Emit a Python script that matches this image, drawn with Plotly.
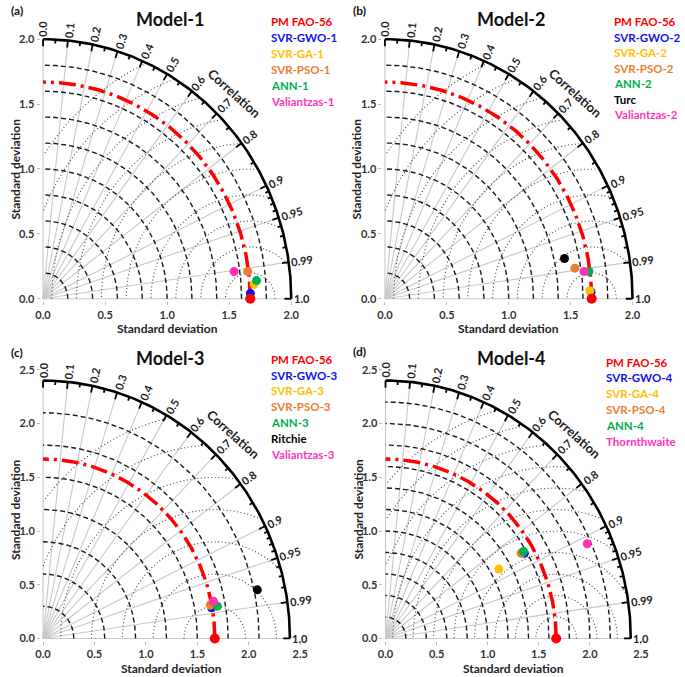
import numpy as np
import plotly.graph_objects as go

# -------------------------
# Data (std dev, correlation)
# -------------------------
ref_name = "PM FAO-56"
ref_std = 1.67

titles = ["Model-1", "Model-2", "Model-3", "Model-4"]
tags = ["(a)", "(b)", "(c)", "(d)"]

names_1 = ["SVR-GWO-1", "SVR-GA-1", "SVR-PSO-1", "ANN-1", "Valiantzas-1"]
std_1 = [1.671, 1.704, 1.663, 1.726, 1.554]
corr_1 = [0.9997, 0.9979, 0.9920, 0.9967, 0.9908]

names_2 = ["SVR-GWO-2", "SVR-GA-2", "SVR-PSO-2", "ANN-2", "Turc", "Valiantzas-2"]
std_2 = [1.666, 1.656, 1.552, 1.661, 1.483, 1.622]
corr_2 = [0.9995, 0.9993, 0.9884, 0.9920, 0.9779, 0.9916]

names_3 = ["SVR-GWO-3", "SVR-GA-3", "SVR-PSO-3", "ANN-3", "Ritchie", "Valiantzas-3"]
std_3 = [1.663, 1.654, 1.660, 1.721, 2.132, 1.693]
corr_3 = [0.9852, 0.9823, 0.9818, 0.9847, 0.9772, 0.9789]

names_4 = ["SVR-GWO-4", "SVR-GA-4", "SVR-PSO-4", "ANN-4", "Thornthwaite"]
std_4 = [1.573, 1.283, 1.546, 1.574, 2.162]
corr_4 = [0.8637, 0.8641, 0.8584, 0.8575, 0.9132]

corr_major = [0.0, 0.1, 0.2, 0.3, 0.4, 0.5, 0.6, 0.7, 0.8, 0.9, 0.95, 0.99, 1.0]
corr_minor = [0.05, 0.15, 0.25, 0.35, 0.45, 0.55, 0.65, 0.75, 0.85,
              0.91, 0.92, 0.93, 0.94, 0.96, 0.97, 0.98]

# colours
RED, BLUE, GOLD, ORANGE, GREEN, BLACK, PINK = ("#ff0000", "#1010f0", "#ffc000",
                                               "#ed7d31", "#00b050", "#000000", "#ff33bb")
colors_1 = [BLUE, GOLD, ORANGE, GREEN, PINK]
colors_2 = [BLUE, GOLD, ORANGE, GREEN, BLACK, PINK]
colors_3 = [BLUE, GOLD, ORANGE, GREEN, BLACK, PINK]
colors_4 = [BLUE, GOLD, ORANGE, GREEN, PINK]

# -------------------------
# Panel geometry (pixels in the 685x677 page)
# -------------------------
W, H = 685, 677
FONT = "Lato"
panels = [
    dict(names=names_1, std=std_1, corr=corr_1, colors=colors_1,
         ox=37.7, oy=297.7, sx=126.3, sy=131.5, R=2.0, top=2.0, hi=2.05,
         std_step=0.2, std_max=1.8, rms_step=0.2, rms_max=2.0,
         title=(167, 14), tag=(11, 6), leg=(268, 17, 16.1)),
    dict(names=names_2, std=std_2, corr=corr_2, colors=colors_2,
         ox=385.7, oy=297.7, sx=126.0, sy=131.5, R=2.0, top=2.0, hi=2.05,
         std_step=0.2, std_max=1.8, rms_step=0.2, rms_max=2.0,
         title=(515, 14), tag=(360, 6), leg=(617, 17, 15.7)),
    dict(names=names_3, std=std_3, corr=corr_3, colors=colors_3,
         ox=37.7, oy=642.0, sx=104.7, sy=108.9, R=2.4, top=2.5, hi=2.52,
         std_step=0.3, std_max=2.1, rms_step=0.3, rms_max=2.1,
         title=(167, 358), tag=(11, 352), leg=(268, 359, 16.1)),
    dict(names=names_4, std=std_4, corr=corr_4, colors=colors_4,
         ox=386.3, oy=642.0, sx=104.0, sy=108.9, R=2.4, top=2.5, hi=2.52,
         std_step=0.2, std_max=2.2, rms_step=0.2, rms_max=2.2,
         title=(515, 358), tag=(360, 351), leg=(609, 362, 16.0)),
]

fig = go.Figure()
annotations = []
LO = -0.02


def px(x, y):
    return x / W, 1 - y / H


def note(x, y, text, size, color="#222", anchor="center", angle=0):
    ax_, ay_ = px(x, y)
    annotations.append(dict(x=ax_, y=ay_, xref="paper", yref="paper", text=text,
                            xanchor=anchor, yanchor="middle", showarrow=False,
                            textangle=angle,
                            font=dict(family=FONT, size=size, color=color, weight="bold")))


def join(segments):
    xs, ys = [], []
    for sx_, sy_ in segments:
        xs += list(sx_) + [None]
        ys += list(sy_) + [None]
    return xs, ys


for k, p in enumerate(panels):
    xa = "x" if k == 0 else f"x{k + 1}"
    ya = "y" if k == 0 else f"y{k + 1}"
    R = p["R"]
    scale = (p["sx"] + p["sy"]) / 2

    def line(xs, ys, color, width, dash="solid"):
        fig.add_trace(go.Scatter(x=xs, y=ys, mode="lines", xaxis=xa, yaxis=ya,
                                 line=dict(color=color, width=width, dash=dash),
                                 hoverinfo="skip", showlegend=False))

    # grey radial lines
    segs = []
    for c in corr_major:
        t = np.arccos(c)
        segs.append(([0, R * np.cos(t)], [0, R * np.sin(t)]))
    xs, ys = join(segs)
    line(xs, ys, "#c8c8c8", 1.1)

    # dashed std-dev arcs
    th = np.linspace(0, np.pi / 2, 200)
    radii = np.arange(p["std_step"], p["std_max"] + 1e-6, p["std_step"])
    xs, ys = join([(r * np.cos(th), r * np.sin(th)) for r in radii])
    line(xs, ys, "#1a1a1a", 1.4, "5px,3px")

    # dotted centred-RMS arcs around the reference point
    phi = np.linspace(0, np.pi, 500)
    segs = []
    for r in np.arange(p["rms_step"], p["rms_max"] + 1e-6, p["rms_step"]):
        ax_ = ref_std + r * np.cos(phi)
        ay_ = r * np.sin(phi)
        keep = (ax_ >= 0) & (ax_ ** 2 + ay_ ** 2 <= R ** 2)
        segs.append(([v if m else None for v, m in zip(ax_, keep)],
                     [v if m else None for v, m in zip(ay_, keep)]))
    xs, ys = join(segs)
    line(xs, ys, "#444444", 1.1, "1px,2.5px")

    # reference std arc
    line(ref_std * np.cos(th), ref_std * np.sin(th), RED, 3.5, "17px,5px,3px,5px")

    # outer arc + correlation ticks
    line(R * np.cos(th), R * np.sin(th), "#000000", 2.6)
    segs = []
    for c, L in [(c, 7) for c in corr_major] + [(c, 4) for c in corr_minor]:
        t = np.arccos(c)
        r0 = R - L / scale
        segs.append(([r0 * np.cos(t), R * np.cos(t)], [r0 * np.sin(t), R * np.sin(t)]))
    xs, ys = join(segs)
    line(xs, ys, "#000000", 1.8)

    for c in corr_major:
        t = np.arccos(c)
        lab = f"{c:.2f}".rstrip("0") if c not in (0.0, 1.0) else f"{c:.1f}"
        w = 6.0 * sum(ch.isdigit() for ch in lab) + 3.0 * lab.count(".")
        d = 3 + w / 2
        annotations.append(dict(x=R * np.cos(t), y=R * np.sin(t), xref=xa, yref=ya,
                                text=lab, showarrow=False, textangle=-np.degrees(t),
                                xanchor="center", yanchor="middle",
                                xshift=d * np.cos(t), yshift=d * np.sin(t),
                                font=dict(family=FONT, size=11, color="#222", weight="bold")))
    t = np.radians(46)
    annotations.append(dict(x=R * np.cos(t), y=R * np.sin(t), xref=xa, yref=ya,
                            text="Correlation", showarrow=False, textangle=42,
                            xanchor="center", yanchor="middle",
                            xshift=27 * np.cos(t), yshift=27 * np.sin(t),
                            font=dict(family=FONT, size=13, color="#222", weight="bold")))

    # model points
    for n, s, c, col in zip(p["names"], p["std"], p["corr"], p["colors"]):
        t = np.arccos(c)
        fig.add_trace(go.Scatter(x=[s * np.cos(t)], y=[s * np.sin(t)], mode="markers",
                                 xaxis=xa, yaxis=ya, name=n, showlegend=False,
                                 cliponaxis=False, marker=dict(color=col, size=9)))
    fig.add_trace(go.Scatter(x=[ref_std], y=[0], mode="markers", xaxis=xa, yaxis=ya,
                             name=ref_name, showlegend=False, cliponaxis=False,
                             marker=dict(color=RED, size=10)))

    # axes
    x0, x1 = (p["ox"] + LO * p["sx"]) / W, (p["ox"] + p["hi"] * p["sx"]) / W
    y0, y1 = 1 - (p["oy"] - LO * p["sy"]) / H, 1 - (p["oy"] - p["hi"] * p["sy"]) / H
    ticks = list(np.arange(0, p["top"] + 1e-6, 0.5))
    common = dict(range=[LO, p["hi"]], tickvals=ticks, ticktext=[f"{v:.1f}" for v in ticks],
                  showgrid=False, zeroline=False, showline=False, ticks="outside",
                  ticklen=3, tickcolor="#bbbbbb",
                  tickfont=dict(family=FONT, size=11, color="#333", weight="bold"))
    fig.update_layout({("xaxis" if k == 0 else f"xaxis{k + 1}"): dict(common, domain=[x0, x1], anchor=ya),
                       ("yaxis" if k == 0 else f"yaxis{k + 1}"): dict(common, domain=[y0, y1], anchor=xa)})

    # axis titles, panel title, tag
    cx = p["ox"] + p["top"] * p["sx"] / 2
    note(cx, p["oy"] + 30, "Standard deviation", 12)
    note(p["ox"] - 28, p["oy"] - p["R"] * p["sy"] / 2, "Standard deviation", 12, angle=-90)
    note(*p["title"], titles[k], 18, "#111")
    note(*p["tag"], tags[k], 12, "#111")

    # per-panel legend text
    lx, ly, dy = p["leg"]
    for i, (n, col) in enumerate(zip([ref_name] + p["names"], [RED] + p["colors"])):
        note(lx, ly + i * dy, n, 11.5, col, anchor="left")

fig.update_layout(width=W, height=H, margin=dict(l=0, r=0, t=0, b=0),
                  paper_bgcolor="white", plot_bgcolor="white",
                  annotations=annotations, showlegend=False)

fig.write_html("out.html", config={"displayModeBar": False},
               post_script="document.body.style.margin='0px';")
